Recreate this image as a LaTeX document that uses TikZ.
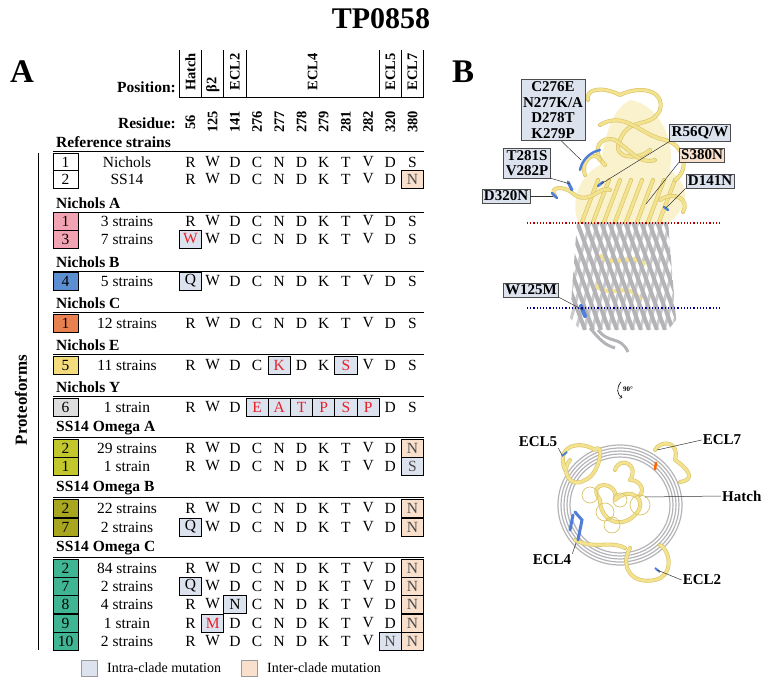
\documentclass[tikz,border=0pt]{standalone}
\usepackage{fontspec}
\setmainfont{Liberation Serif}
\usetikzlibrary{calc}
\definecolor{intra}{HTML}{DCE3EF}
\definecolor{inter}{HTML}{F8E0CC}
\definecolor{mred}{HTML}{E8202A}
\definecolor{cNA}{HTML}{F2A3B3}
\definecolor{cNB}{HTML}{5B8FD2}
\definecolor{cNC}{HTML}{E8804F}
\definecolor{cNE}{HTML}{F4DB7C}
\definecolor{cNY}{HTML}{DDDDDD}
\definecolor{cOA}{HTML}{C2C72C}
\definecolor{cOB}{HTML}{A8A61E}
\definecolor{cOC}{HTML}{3FB594}
\definecolor{ribbon}{HTML}{F3E28E}
\definecolor{ribedge}{HTML}{D9C46A}
\definecolor{barrel}{HTML}{B4B4B8}
\definecolor{mutblue}{HTML}{4F7FD8}
\tikzset{
  lett/.style={font=\fontsize{15.5}{15.5}\selectfont, inner sep=0pt},
  grp/.style={font=\bfseries\fontsize{15.5}{15.5}\selectfont, anchor=west, inner sep=0pt},
  numbox/.style={draw, line width=0.8pt, minimum width=25pt, minimum height=18pt, inner sep=0pt, font=\fontsize{15.5}{15.5}\selectfont},
  mutbox/.style={draw, line width=0.8pt, minimum width=22.2pt, minimum height=18pt, inner sep=0pt, font=\fontsize{15.5}{15.5}\selectfont},
  lbl/.style={draw=black!70, fill=intra, line width=0.7pt, font=\bfseries\fontsize{15}{15.5}\selectfont, align=center, inner sep=2pt},
  lead/.style={draw=black!80, line width=0.5pt},
  rib/.style={draw=ribedge, line width=4pt, line cap=round, line join=round},
  ribin/.style={draw=ribbon, line width=2.8pt, line cap=round, line join=round},
  strand/.style={draw=barrel, line width=4pt},
  toplab/.style={font=\bfseries\fontsize{15}{15}\selectfont, inner sep=1pt},
  hdr/.style={font=\bfseries\fontsize{14.5}{14.5}\selectfont, rotate=90, inner sep=0pt},
}
\newcommand{\colx}[1]{\fpeval{190.5+22.2*(#1-1)}}
\newcommand{\seqrow}[5]{% y, num, color, strain, letters
  \node[numbox, fill=#3] (n#1) at (65.5,#1) {#2};
  \node[lett] (s#1) at (127,#1) {#4};
  \foreach \c [count=\i] in {#5} {\node[lett] at (\colx{\i},#1) {\c};}
}
\newcommand{\mutat}[5]{% col, y, letter, fill, textcolor
  \node[mutbox, fill=#4, text=#5] at (\colx{#1},#2) {#3};
}
\newcommand{\grphead}[2]{% y, name
  \node[grp] (g#1) at (56,#1) {#2};
  \draw[line width=1.6pt] (53,#1+9.5) -- (424,#1+9.5);
}
\newcommand{\twice}[2]{\draw[rib] #2; \draw[ribin] #2;}
\begin{document}
\begin{tikzpicture}[x=1pt,y=-1pt]
\useasboundingbox (0,0) rectangle (763,677);
\node[font=\bfseries\fontsize{30}{30}\selectfont] (title) at (381,19) {TP0858};
\node[font=\bfseries\fontsize{33}{33}\selectfont] (A) at (22,72) {A};
\node[font=\bfseries\fontsize{33}{33}\selectfont] (B) at (463,72) {B};
% header
\node[font=\bfseries\fontsize{15.5}{15.5}\selectfont, anchor=east, inner sep=0pt] (pos) at (176,87) {Position:};
\node[font=\bfseries\fontsize{15.5}{15.5}\selectfont, anchor=east, inner sep=0pt] (resid) at (176,123) {Residue:};
\draw[line width=0.9pt] (179.4,50) -- (179.4,97) -- (423.6,97) -- (423.6,50);
\foreach \xx in {201.6,223.8,246,379.2,401.4} \draw[line width=0.9pt] (\xx,50) -- (\xx,97);
\foreach \t/\xx/\yy in {Hatch/190.5/72, β2/212.7/85, ECL2/234.9/72, ECL4/312.6/72, ECL5/390.3/72, ECL7/412.5/72}
  \node[hdr] at (\xx,\yy) {\t};
\foreach \r [count=\i] in {56,125,141,276,277,278,279,281,282,320,380}
  \node[hdr] at (\colx{\i},122) {\r};
% proteoforms
\draw[line width=0.8pt] (38,153) -- (38,650);
\node[font=\bfseries\fontsize{17}{17}\selectfont, rotate=90, inner sep=0pt] (prot) at (21,400) {Proteoforms};
% Reference
\grphead{142}{Reference strains}
\mutat{11}{179}{N}{inter}{black!70}
\seqrow{162}{1}{white}{Nichols}{R,W,D,C,N,D,K,T,V,D,S}
\seqrow{179}{2}{white}{SS14}{R,W,D,C,N,D,K,T,V,D,{}}
% Nichols A
\grphead{203}{Nichols A}
\mutat{1}{239}{W}{intra}{mred}
\seqrow{221}{1}{cNA}{3 strains}{R,W,D,C,N,D,K,T,V,D,S}
\seqrow{239}{3}{cNA}{7 strains}{{},W,D,C,N,D,K,T,V,D,S}
% Nichols B
\grphead{262}{Nichols B}
\mutat{1}{281}{Q}{intra}{black}
\seqrow{281}{4}{cNB}{5 strains}{{},W,D,C,N,D,K,T,V,D,S}
% Nichols C
\grphead{303}{Nichols C}
\seqrow{323}{1}{cNC}{12 strains}{R,W,D,C,N,D,K,T,V,D,S}
% Nichols E
\grphead{345}{Nichols E}
\mutat{5}{365}{K}{intra}{mred}
\mutat{8}{365}{S}{intra}{mred}
\seqrow{365}{5}{cNE}{11 strains}{R,W,D,C,{},D,K,{},V,D,S}
% Nichols Y
\grphead{387}{Nichols Y}
\foreach \c/\l in {4/E,5/A,6/T,7/P,8/S,9/P} {\mutat{\c}{407}{\l}{intra}{mred}}
\seqrow{407}{6}{cNY}{1 strain}{R,W,D,{},{},{},{},{},{},D,S}
% Omega A
\grphead{428}{SS14 Omega A}
\mutat{11}{448}{N}{inter}{black!70}
\mutat{11}{466}{S}{intra}{black!70}
\seqrow{448}{2}{cOA}{29 strains}{R,W,D,C,N,D,K,T,V,D,{}}
\seqrow{466}{1}{cOA}{1 strain}{R,W,D,C,N,D,K,T,V,D,{}}
% Omega B
\grphead{488}{SS14 Omega B}
\mutat{11}{508}{N}{inter}{black!70}
\mutat{11}{527}{N}{inter}{black!70}
\mutat{1}{527}{Q}{intra}{black}
\seqrow{508}{2}{cOB}{22 strains}{R,W,D,C,N,D,K,T,V,D,{}}
\seqrow{527}{7}{cOB}{2 strains}{{},W,D,C,N,D,K,T,V,D,{}}
% Omega C
\grphead{548}{SS14 Omega C}
\foreach \yy in {568,586,604,623,641} {\mutat{11}{\yy}{N}{inter}{black!70}}
\mutat{1}{586}{Q}{intra}{black}
\mutat{3}{604}{N}{intra}{black}
\mutat{2}{623}{M}{intra}{mred}
\mutat{10}{641}{N}{intra}{black!70}
\seqrow{568}{2}{cOC}{84 strains}{R,W,D,C,N,D,K,T,V,D,{}}
\seqrow{586}{7}{cOC}{2 strains}{{},W,D,C,N,D,K,T,V,D,{}}
\seqrow{604}{8}{cOC}{4 strains}{R,W,{},C,N,D,K,T,V,D,{}}
\seqrow{623}{9}{cOC}{1 strain}{R,{},D,C,N,D,K,T,V,D,{}}
\seqrow{641}{10}{cOC}{2 strains}{R,W,D,C,N,D,K,T,V,{},{}}
% legend
\node[draw=black!40, fill=intra, minimum size=16pt, inner sep=0pt] (l1) at (89,668) {};
\node[font=\fontsize{14}{14}\selectfont, anchor=west, inner sep=0pt] (l1t) at (107,668) {Intra-clade mutation};
\node[draw=black!40, fill=inter, minimum size=16pt, inner sep=0pt] (l2) at (249,668) {};
\node[font=\fontsize{14}{14}\selectfont, anchor=west, inner sep=0pt] (l2t) at (267,668) {Inter-clade mutation};
% ===== Panel B: side view =====
\begin{scope}
\clip (577,222) -- (668,222) -- (676,320) -- (668,330) -- (580,330) -- (570,318) -- cycle;
\fill[white] (560,215) rectangle (690,340);
\foreach \k in {0,...,14} \draw[draw=barrel!70, line width=3pt] (560+8*\k,330) -- (590+8*\k,222);
\draw[draw=ribbon, line width=4pt] (600,255) .. controls (615,270) and (630,250) .. (645,265);
\draw[draw=ribbon, line width=4pt] (595,285) .. controls (610,300) and (630,280) .. (640,300);
\foreach \k in {0,...,16} \draw[strand] (545+8*\k,222) -- (585+8*\k,330);
\end{scope}
\draw[strand, line width=3pt] (598,330) .. controls (610,345) and (620,335) .. (628,352);
\draw[strand, line width=3pt] (590,328) .. controls (600,340) and (605,345) .. (615,348);
\fill[ribbon!45] (578,222) .. controls (570,200) and (580,175) .. (600,165) .. controls (605,140) and (610,110) .. (630,100) .. controls (660,105) and (675,140) .. (670,170) .. controls (690,185) and (690,205) .. (670,222) -- cycle;
\foreach \k in {0,...,7} {\twice{}{(582+11*\k,222) -- (598+11*\k,180)}}
\twice{}{(588,100) .. controls (585,90) and (600,85) .. (620,95) .. controls (640,85) and (665,90) .. (660,110) .. controls (650,130) and (630,115) .. (620,140) .. controls (610,160) and (640,160) .. (650,150)}
\twice{}{(600,125) .. controls (625,110) and (640,135) .. (665,140) .. controls (685,145) and (690,170) .. (675,180)}
\twice{}{(555,196) .. controls (548,186) and (565,185) .. (575,195) .. controls (590,205) and (600,185) .. (610,190)}
\twice{}{(660,200) .. controls (675,190) and (690,200) .. (683,212)}
\twice{}{(605,165) .. controls (590,150) and (600,135) .. (615,140) .. controls (630,150) and (640,165) .. (655,160)}
\twice{}{(585,175) .. controls (580,160) and (595,150) .. (600,160)}
\draw[mutblue, line width=2.5pt, line cap=round] (580,170) .. controls (582,160) and (590,152) .. (600,150);
\draw[mutblue, line width=3pt, line cap=round] (568,182) -- (572,190);
\draw[mutblue, line width=2.5pt, line cap=round] (552,193) -- (557,198);
\draw[mutblue, line width=2.5pt, line cap=round] (598,186) -- (603,182);
\draw[mutblue, line width=2.5pt, line cap=round] (664,207) -- (668,210);
\draw[mutblue, line width=4pt, line cap=round] (581,306) -- (585,316);
\draw[red!70!black, dotted, line width=1.2pt] (527,223) -- (720,223);
\draw[blue!60!black, dotted, line width=1.2pt] (527,308) -- (720,308);
\coordinate (pC) at (581,160); \coordinate (pT) at (570,184);
\coordinate (pD3) at (553,196); \coordinate (pR) at (601,184);
\coordinate (pS) at (646,204); \coordinate (pD1) at (666,208);
\coordinate (pW) at (583,310);
\node[lbl] (mC) at (553,110) {C276E\\N277K/A\\D278T\\K279P};
\node[lbl] (mT) at (527,163) {T281S\\V282P};
\node[lbl] (mD3) at (506,196) {D320N};
\node[lbl] (mR) at (700,133) {R56Q/W};
\node[lbl, fill=inter] (mS) at (702,155) {S380N};
\node[lbl] (mD1) at (710,181) {D141N};
\node[lbl] (mW) at (531,290) {W125M};
\draw[lead] (mC.south) ++(8,0) -- (pC);
\draw[lead] (mT.south east) -- (pT);
\draw[lead] (mD3.east) -- (pD3);
\draw[lead] (mR.south west) -- (pR);
\draw[lead] (mS.south west) -- (pS);
\draw[lead] (mD1.south west) -- (pD1);
\draw[lead] (mW.south east) -- (pW);
\draw[line width=0.6pt,->] (621,382) .. controls (616,388) and (617,394) .. (622,398);
\node[font=\bfseries\fontsize{7}{7}\selectfont, inner sep=0pt] (rot) at (628,389) {90°};
% ===== bottom view =====
\foreach \r in {48,51,54,57,60} \draw[barrel, line width=1.2pt] (620,505) ellipse ({\r+2} and \r);
\twice{}{(565,470) .. controls (555,445) and (580,440) .. (595,450) .. controls (605,440) and (600,475) .. (585,480) .. controls (570,490) and (560,470) .. (570,460)}
\twice{}{(655,450) .. controls (660,440) and (680,440) .. (675,460) .. controls (690,470) and (695,480) .. (680,482)}
\twice{}{(600,500) .. controls (585,480) and (620,480) .. (615,500) .. controls (630,485) and (650,500) .. (635,515) .. controls (620,530) and (600,520) .. (600,500)}
\twice{}{(615,470) .. controls (620,455) and (640,465) .. (630,480) .. controls (640,480) and (645,490) .. (640,495)}
\twice{}{(630,548) .. controls (620,565) and (630,585) .. (655,580) .. controls (675,575) and (670,550) .. (660,545)}
\twice{}{(575,540) .. controls (595,550) and (610,540) .. (625,548)}
\draw[ribedge, line width=0.7pt] (590,495) circle (8) (605,512) circle (9) (620,500) circle (7) (640,505) circle (10) (612,525) circle (8);
\draw[mutblue, line width=3pt, line cap=round] (573,515) -- (570,530) (575,512) -- (582,520) -- (578,540);
\draw[mutblue, line width=2pt] (562,456) -- (567,452);
\draw[mutblue, line width=2pt] (655,568) -- (660,572);
\draw[orange!80!red, line width=2.5pt] (656,462) -- (655,470);
\node[toplab] (e5) at (538,442) {ECL5};
\node[toplab] (e7) at (722,440) {ECL7};
\node[toplab, anchor=west] (hat) at (721,496) {Hatch};
\node[toplab] (e4) at (552,560) {ECL4};
\node[toplab] (e2) at (702,580) {ECL2};
\coordinate (q5) at (562,455); \coordinate (q7) at (657,450);
\coordinate (qh) at (645,497); \coordinate (q4) at (576,543);
\coordinate (q2) at (657,570);
\draw[lead] (e5.south east) -- (q5);
\draw[lead] (e7.west) -- (q7);
\draw[lead] (hat.west) -- (qh);
\draw[lead] (e4.north east) -- (q4);
\draw[lead] (e2.west) -- (q2);
\end{tikzpicture}
\end{document}
